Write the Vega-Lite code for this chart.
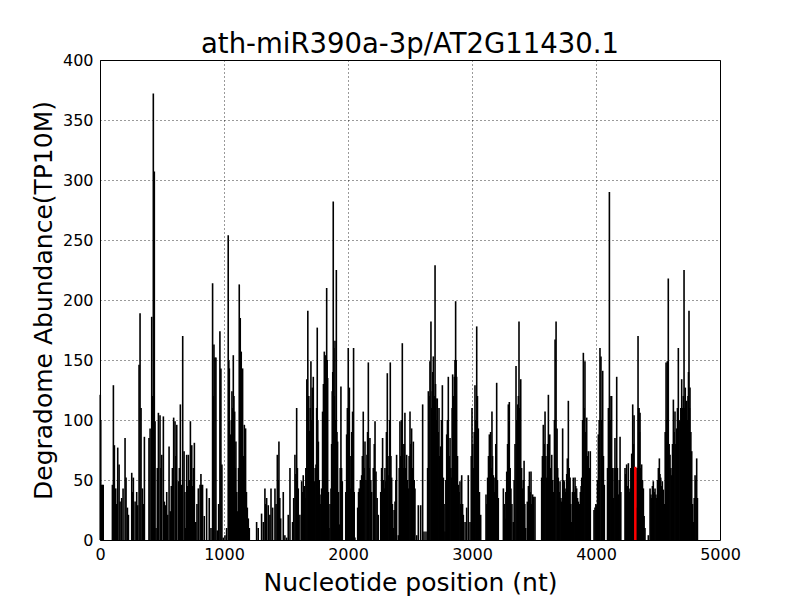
{
  "$schema": "https://vega.github.io/schema/vega-lite/v6.json",
  "width": 620,
  "height": 480,
  "autosize": {"type": "none"},
  "padding": {"left": 100, "top": 60, "right": 80, "bottom": 60},
  "background": "white",
  "config": {
    "font": "DejaVu Sans",
    "view": {"stroke": "black", "strokeWidth": 1},
    "axis": {
      "labelFont": "DejaVu Sans",
      "titleFont": "DejaVu Sans",
      "labelFontSize": 16,
      "titleFontSize": 25,
      "titleFontWeight": "normal",
      "labelColor": "black",
      "titleColor": "black",
      "ticks": false,
      "domain": false,
      "grid": true,
      "gridColor": "black",
      "gridDash": [1, 3],
      "gridWidth": 0.8,
      "gridOpacity": 1
    }
  },
  "title": {
    "text": "ath-miR390a-3p/AT2G11430.1",
    "font": "DejaVu Sans",
    "fontSize": 27.5,
    "fontWeight": "normal",
    "color": "black",
    "frame": "group",
    "baseline": "alphabetic",
    "offset": 7,
    "dy": 35
  },
  "data": {
    "values": [
      {"pos": 2, "val": 121, "kind": "other"}, {"pos": 6, "val": 100, "kind": "other"}, {"pos": 12, "val": 46, "kind": "other"}, {"pos": 20, "val": 46, "kind": "other"}, {"pos": 26, "val": 46, "kind": "other"},
      {"pos": 100, "val": 46, "kind": "other"}, {"pos": 108, "val": 129, "kind": "other"}, {"pos": 116, "val": 79, "kind": "other"}, {"pos": 127, "val": 43, "kind": "other"}, {"pos": 135, "val": 30, "kind": "other"}, {"pos": 143, "val": 77, "kind": "other"}, {"pos": 154, "val": 63, "kind": "other"}, {"pos": 162, "val": 32, "kind": "other"}, {"pos": 175, "val": 35, "kind": "other"}, {"pos": 186, "val": 43, "kind": "other"}, {"pos": 202, "val": 85, "kind": "other"}, {"pos": 210, "val": 52, "kind": "other"}, {"pos": 221, "val": 27, "kind": "other"}, {"pos": 229, "val": 21, "kind": "other"},
      {"pos": 256, "val": 56, "kind": "other"}, {"pos": 262, "val": 40, "kind": "other"}, {"pos": 269, "val": 52, "kind": "other"}, {"pos": 283, "val": 32, "kind": "other"}, {"pos": 296, "val": 40, "kind": "other"}, {"pos": 304, "val": 29, "kind": "other"}, {"pos": 315, "val": 146, "kind": "other"}, {"pos": 323, "val": 189, "kind": "other"}, {"pos": 331, "val": 110, "kind": "other"}, {"pos": 342, "val": 43, "kind": "other"}, {"pos": 350, "val": 30, "kind": "other"}, {"pos": 358, "val": 86, "kind": "other"},
      {"pos": 395, "val": 85, "kind": "other"}, {"pos": 404, "val": 93, "kind": "other"}, {"pos": 417, "val": 186, "kind": "other"}, {"pos": 424, "val": 120, "kind": "other"}, {"pos": 430, "val": 372, "kind": "other"}, {"pos": 438, "val": 307, "kind": "other"}, {"pos": 444, "val": 99, "kind": "other"}, {"pos": 452, "val": 10, "kind": "other"}, {"pos": 462, "val": 60, "kind": "other"}, {"pos": 471, "val": 106, "kind": "other"}, {"pos": 484, "val": 104, "kind": "other"}, {"pos": 491, "val": 60, "kind": "other"}, {"pos": 498, "val": 71, "kind": "other"}, {"pos": 511, "val": 103, "kind": "other"}, {"pos": 519, "val": 32, "kind": "other"}, {"pos": 530, "val": 29, "kind": "other"}, {"pos": 538, "val": 40, "kind": "other"}, {"pos": 546, "val": 21, "kind": "other"}, {"pos": 557, "val": 78, "kind": "other"}, {"pos": 567, "val": 24, "kind": "other"}, {"pos": 575, "val": 45, "kind": "other"}, {"pos": 584, "val": 60, "kind": "other"}, {"pos": 594, "val": 102, "kind": "other"}, {"pos": 605, "val": 99, "kind": "other"}, {"pos": 612, "val": 70, "kind": "other"}, {"pos": 619, "val": 96, "kind": "other"}, {"pos": 632, "val": 49, "kind": "other"}, {"pos": 640, "val": 60, "kind": "other"}, {"pos": 648, "val": 113, "kind": "other"}, {"pos": 659, "val": 46, "kind": "other"}, {"pos": 667, "val": 170, "kind": "other"}, {"pos": 678, "val": 74, "kind": "other"}, {"pos": 685, "val": 40, "kind": "other"}, {"pos": 691, "val": 10, "kind": "other"}, {"pos": 699, "val": 71, "kind": "other"}, {"pos": 706, "val": 45, "kind": "other"}, {"pos": 713, "val": 71, "kind": "other"}, {"pos": 721, "val": 50, "kind": "other"}, {"pos": 729, "val": 99, "kind": "other"}, {"pos": 740, "val": 79, "kind": "other"}, {"pos": 746, "val": 45, "kind": "other"}, {"pos": 753, "val": 60, "kind": "other"}, {"pos": 761, "val": 81, "kind": "other"}, {"pos": 772, "val": 15, "kind": "other"}, {"pos": 782, "val": 30, "kind": "other"}, {"pos": 793, "val": 43, "kind": "other"}, {"pos": 807, "val": 46, "kind": "other"}, {"pos": 814, "val": 55, "kind": "other"}, {"pos": 820, "val": 46, "kind": "other"}, {"pos": 827, "val": 46, "kind": "other"}, {"pos": 841, "val": 20, "kind": "other"}, {"pos": 860, "val": 43, "kind": "other"}, {"pos": 881, "val": 35, "kind": "other"}, {"pos": 895, "val": 10, "kind": "other"},
      {"pos": 908, "val": 214, "kind": "other"}, {"pos": 913, "val": 120, "kind": "other"}, {"pos": 919, "val": 163, "kind": "other"}, {"pos": 927, "val": 152, "kind": "other"}, {"pos": 935, "val": 152, "kind": "other"}, {"pos": 946, "val": 8, "kind": "other"}, {"pos": 957, "val": 30, "kind": "other"}, {"pos": 967, "val": 174, "kind": "other"}, {"pos": 975, "val": 143, "kind": "other"}, {"pos": 983, "val": 63, "kind": "other"}, {"pos": 994, "val": 2, "kind": "other"}, {"pos": 1008, "val": 4, "kind": "other"}, {"pos": 1021, "val": 10, "kind": "other"}, {"pos": 1034, "val": 254, "kind": "other"}, {"pos": 1039, "val": 150, "kind": "other"}, {"pos": 1043, "val": 143, "kind": "other"}, {"pos": 1048, "val": 80, "kind": "other"}, {"pos": 1053, "val": 88, "kind": "other"}, {"pos": 1059, "val": 100, "kind": "other"}, {"pos": 1064, "val": 124, "kind": "other"}, {"pos": 1070, "val": 110, "kind": "other"}, {"pos": 1075, "val": 154, "kind": "other"}, {"pos": 1080, "val": 120, "kind": "other"}, {"pos": 1086, "val": 107, "kind": "other"}, {"pos": 1091, "val": 60, "kind": "other"}, {"pos": 1096, "val": 82, "kind": "other"}, {"pos": 1103, "val": 40, "kind": "other"}, {"pos": 1110, "val": 24, "kind": "other"}, {"pos": 1117, "val": 60, "kind": "other"}, {"pos": 1123, "val": 213, "kind": "other"}, {"pos": 1127, "val": 150, "kind": "other"}, {"pos": 1131, "val": 185, "kind": "other"}, {"pos": 1135, "val": 140, "kind": "other"}, {"pos": 1139, "val": 157, "kind": "other"}, {"pos": 1145, "val": 120, "kind": "other"}, {"pos": 1150, "val": 143, "kind": "other"}, {"pos": 1157, "val": 70, "kind": "other"}, {"pos": 1164, "val": 96, "kind": "other"}, {"pos": 1169, "val": 60, "kind": "other"}, {"pos": 1174, "val": 93, "kind": "other"}, {"pos": 1181, "val": 40, "kind": "other"}, {"pos": 1188, "val": 27, "kind": "other"}, {"pos": 1196, "val": 18, "kind": "other"}, {"pos": 1204, "val": 10, "kind": "other"},
      {"pos": 1263, "val": 15, "kind": "other"}, {"pos": 1276, "val": 10, "kind": "other"}, {"pos": 1303, "val": 22, "kind": "other"}, {"pos": 1317, "val": 15, "kind": "other"}, {"pos": 1330, "val": 43, "kind": "other"}, {"pos": 1337, "val": 30, "kind": "other"}, {"pos": 1344, "val": 35, "kind": "other"}, {"pos": 1357, "val": 29, "kind": "other"}, {"pos": 1370, "val": 21, "kind": "other"}, {"pos": 1379, "val": 43, "kind": "other"}, {"pos": 1392, "val": 27, "kind": "other"}, {"pos": 1411, "val": 43, "kind": "other"}, {"pos": 1420, "val": 30, "kind": "other"}, {"pos": 1430, "val": 71, "kind": "other"}, {"pos": 1437, "val": 50, "kind": "other"}, {"pos": 1443, "val": 82, "kind": "other"}, {"pos": 1450, "val": 35, "kind": "other"}, {"pos": 1457, "val": 18, "kind": "other"}, {"pos": 1478, "val": 40, "kind": "other"}, {"pos": 1491, "val": 4, "kind": "other"}, {"pos": 1505, "val": 2, "kind": "other"}, {"pos": 1518, "val": 21, "kind": "other"}, {"pos": 1532, "val": 60, "kind": "other"}, {"pos": 1553, "val": 15, "kind": "other"}, {"pos": 1562, "val": 35, "kind": "other"}, {"pos": 1572, "val": 71, "kind": "other"}, {"pos": 1580, "val": 55, "kind": "other"}, {"pos": 1586, "val": 110, "kind": "other"}, {"pos": 1592, "val": 60, "kind": "other"}, {"pos": 1599, "val": 43, "kind": "other"}, {"pos": 1612, "val": 21, "kind": "other"}, {"pos": 1626, "val": 49, "kind": "other"}, {"pos": 1632, "val": 40, "kind": "other"}, {"pos": 1639, "val": 54, "kind": "other"}, {"pos": 1647, "val": 45, "kind": "other"}, {"pos": 1653, "val": 35, "kind": "other"}, {"pos": 1660, "val": 60, "kind": "other"},
      {"pos": 1668, "val": 134, "kind": "other"}, {"pos": 1676, "val": 191, "kind": "other"}, {"pos": 1684, "val": 120, "kind": "other"}, {"pos": 1691, "val": 91, "kind": "other"}, {"pos": 1696, "val": 110, "kind": "other"}, {"pos": 1701, "val": 149, "kind": "other"}, {"pos": 1707, "val": 100, "kind": "other"}, {"pos": 1712, "val": 127, "kind": "other"}, {"pos": 1720, "val": 136, "kind": "other"}, {"pos": 1728, "val": 49, "kind": "other"}, {"pos": 1735, "val": 60, "kind": "other"}, {"pos": 1742, "val": 63, "kind": "other"}, {"pos": 1747, "val": 110, "kind": "other"}, {"pos": 1752, "val": 177, "kind": "other"}, {"pos": 1756, "val": 100, "kind": "other"}, {"pos": 1761, "val": 82, "kind": "other"}, {"pos": 1768, "val": 50, "kind": "other"}, {"pos": 1774, "val": 38, "kind": "other"}, {"pos": 1781, "val": 30, "kind": "other"}, {"pos": 1787, "val": 43, "kind": "other"}, {"pos": 1795, "val": 107, "kind": "other"}, {"pos": 1802, "val": 130, "kind": "other"}, {"pos": 1809, "val": 157, "kind": "other"}, {"pos": 1815, "val": 130, "kind": "other"}, {"pos": 1820, "val": 154, "kind": "other"}, {"pos": 1828, "val": 210, "kind": "other"}, {"pos": 1832, "val": 150, "kind": "other"}, {"pos": 1836, "val": 135, "kind": "other"}, {"pos": 1842, "val": 40, "kind": "other"}, {"pos": 1847, "val": 10, "kind": "other"}, {"pos": 1855, "val": 30, "kind": "other"}, {"pos": 1863, "val": 43, "kind": "other"}, {"pos": 1868, "val": 80, "kind": "other"}, {"pos": 1873, "val": 124, "kind": "other"}, {"pos": 1877, "val": 140, "kind": "other"}, {"pos": 1881, "val": 282, "kind": "other"}, {"pos": 1886, "val": 160, "kind": "other"}, {"pos": 1890, "val": 120, "kind": "other"}, {"pos": 1895, "val": 166, "kind": "other"}, {"pos": 1901, "val": 100, "kind": "other"}, {"pos": 1906, "val": 225, "kind": "other"}, {"pos": 1911, "val": 90, "kind": "other"}, {"pos": 1916, "val": 82, "kind": "other"}, {"pos": 1923, "val": 40, "kind": "other"}, {"pos": 1930, "val": 13, "kind": "other"}, {"pos": 1937, "val": 60, "kind": "other"}, {"pos": 1943, "val": 128, "kind": "other"}, {"pos": 1948, "val": 60, "kind": "other"}, {"pos": 1954, "val": 49, "kind": "other"},
      {"pos": 1982, "val": 40, "kind": "other"}, {"pos": 1989, "val": 88, "kind": "other"}, {"pos": 1995, "val": 110, "kind": "other"}, {"pos": 2002, "val": 160, "kind": "other"}, {"pos": 2007, "val": 100, "kind": "other"}, {"pos": 2011, "val": 127, "kind": "other"}, {"pos": 2017, "val": 70, "kind": "other"}, {"pos": 2024, "val": 43, "kind": "other"}, {"pos": 2030, "val": 90, "kind": "other"}, {"pos": 2037, "val": 107, "kind": "other"}, {"pos": 2045, "val": 160, "kind": "other"}, {"pos": 2050, "val": 40, "kind": "other"}, {"pos": 2056, "val": 2, "kind": "other"}, {"pos": 2078, "val": 27, "kind": "other"}, {"pos": 2085, "val": 40, "kind": "other"}, {"pos": 2091, "val": 43, "kind": "other"}, {"pos": 2100, "val": 50, "kind": "other"}, {"pos": 2110, "val": 54, "kind": "other"}, {"pos": 2116, "val": 70, "kind": "other"}, {"pos": 2123, "val": 107, "kind": "other"}, {"pos": 2130, "val": 60, "kind": "other"}, {"pos": 2137, "val": 82, "kind": "other"}, {"pos": 2145, "val": 50, "kind": "other"}, {"pos": 2153, "val": 71, "kind": "other"}, {"pos": 2158, "val": 90, "kind": "other"}, {"pos": 2164, "val": 148, "kind": "other"}, {"pos": 2170, "val": 60, "kind": "other"}, {"pos": 2177, "val": 85, "kind": "other"}, {"pos": 2184, "val": 50, "kind": "other"}, {"pos": 2191, "val": 40, "kind": "other"}, {"pos": 2204, "val": 60, "kind": "other"}, {"pos": 2212, "val": 80, "kind": "other"}, {"pos": 2218, "val": 99, "kind": "other"}, {"pos": 2226, "val": 57, "kind": "other"}, {"pos": 2235, "val": 35, "kind": "other"}, {"pos": 2244, "val": 21, "kind": "other"}, {"pos": 2264, "val": 40, "kind": "other"}, {"pos": 2271, "val": 60, "kind": "other"}, {"pos": 2279, "val": 85, "kind": "other"}, {"pos": 2286, "val": 50, "kind": "other"}, {"pos": 2293, "val": 43, "kind": "other"}, {"pos": 2298, "val": 60, "kind": "other"}, {"pos": 2304, "val": 49, "kind": "other"}, {"pos": 2310, "val": 90, "kind": "other"}, {"pos": 2317, "val": 139, "kind": "other"}, {"pos": 2323, "val": 70, "kind": "other"}, {"pos": 2330, "val": 54, "kind": "other"}, {"pos": 2336, "val": 100, "kind": "other"}, {"pos": 2341, "val": 148, "kind": "other"}, {"pos": 2346, "val": 70, "kind": "other"}, {"pos": 2352, "val": 52, "kind": "other"}, {"pos": 2358, "val": 30, "kind": "other"}, {"pos": 2365, "val": 10, "kind": "other"}, {"pos": 2372, "val": 25, "kind": "other"}, {"pos": 2379, "val": 32, "kind": "other"}, {"pos": 2386, "val": 50, "kind": "other"}, {"pos": 2392, "val": 71, "kind": "other"}, {"pos": 2406, "val": 4, "kind": "other"}, {"pos": 2413, "val": 60, "kind": "other"}, {"pos": 2419, "val": 99, "kind": "other"}, {"pos": 2426, "val": 70, "kind": "other"}, {"pos": 2432, "val": 100, "kind": "other"}, {"pos": 2438, "val": 164, "kind": "other"}, {"pos": 2444, "val": 80, "kind": "other"}, {"pos": 2449, "val": 60, "kind": "other"}, {"pos": 2454, "val": 80, "kind": "other"}, {"pos": 2459, "val": 106, "kind": "other"}, {"pos": 2466, "val": 60, "kind": "other"}, {"pos": 2473, "val": 71, "kind": "other"}, {"pos": 2480, "val": 50, "kind": "other"}, {"pos": 2486, "val": 43, "kind": "other"}, {"pos": 2493, "val": 70, "kind": "other"},
      {"pos": 2500, "val": 107, "kind": "other"}, {"pos": 2507, "val": 80, "kind": "other"}, {"pos": 2513, "val": 93, "kind": "other"}, {"pos": 2520, "val": 60, "kind": "other"}, {"pos": 2527, "val": 82, "kind": "other"}, {"pos": 2534, "val": 50, "kind": "other"}, {"pos": 2540, "val": 43, "kind": "other"}, {"pos": 2554, "val": 4, "kind": "other"}, {"pos": 2567, "val": 29, "kind": "other"}, {"pos": 2586, "val": 29, "kind": "other"}, {"pos": 2602, "val": 113, "kind": "other"}, {"pos": 2613, "val": 7, "kind": "other"}, {"pos": 2629, "val": 7, "kind": "other"}, {"pos": 2642, "val": 60, "kind": "other"}, {"pos": 2648, "val": 124, "kind": "other"}, {"pos": 2654, "val": 120, "kind": "other"}, {"pos": 2661, "val": 149, "kind": "other"}, {"pos": 2669, "val": 182, "kind": "other"}, {"pos": 2675, "val": 110, "kind": "other"}, {"pos": 2680, "val": 124, "kind": "other"}, {"pos": 2684, "val": 140, "kind": "other"}, {"pos": 2688, "val": 153, "kind": "other"}, {"pos": 2695, "val": 120, "kind": "other"}, {"pos": 2702, "val": 229, "kind": "other"}, {"pos": 2706, "val": 130, "kind": "other"}, {"pos": 2710, "val": 118, "kind": "other"}, {"pos": 2715, "val": 100, "kind": "other"}, {"pos": 2720, "val": 118, "kind": "other"}, {"pos": 2727, "val": 90, "kind": "other"}, {"pos": 2734, "val": 110, "kind": "other"}, {"pos": 2740, "val": 70, "kind": "other"}, {"pos": 2747, "val": 78, "kind": "other"}, {"pos": 2754, "val": 100, "kind": "other"}, {"pos": 2761, "val": 129, "kind": "other"}, {"pos": 2769, "val": 52, "kind": "other"}, {"pos": 2775, "val": 30, "kind": "other"}, {"pos": 2782, "val": 7, "kind": "other"}, {"pos": 2789, "val": 50, "kind": "other"}, {"pos": 2796, "val": 88, "kind": "other"}, {"pos": 2802, "val": 100, "kind": "other"}, {"pos": 2809, "val": 136, "kind": "other"}, {"pos": 2816, "val": 70, "kind": "other"}, {"pos": 2823, "val": 85, "kind": "other"}, {"pos": 2830, "val": 60, "kind": "other"}, {"pos": 2836, "val": 52, "kind": "other"}, {"pos": 2840, "val": 110, "kind": "other"}, {"pos": 2844, "val": 138, "kind": "other"}, {"pos": 2851, "val": 120, "kind": "other"}, {"pos": 2858, "val": 136, "kind": "other"}, {"pos": 2863, "val": 150, "kind": "other"}, {"pos": 2868, "val": 199, "kind": "other"}, {"pos": 2872, "val": 150, "kind": "other"}, {"pos": 2876, "val": 136, "kind": "other"}, {"pos": 2883, "val": 70, "kind": "other"}, {"pos": 2890, "val": 46, "kind": "other"}, {"pos": 2896, "val": 40, "kind": "other"}, {"pos": 2903, "val": 49, "kind": "other"}, {"pos": 2910, "val": 30, "kind": "other"}, {"pos": 2917, "val": 54, "kind": "other"}, {"pos": 2924, "val": 30, "kind": "other"}, {"pos": 2930, "val": 21, "kind": "other"}, {"pos": 2944, "val": 15, "kind": "other"}, {"pos": 2957, "val": 27, "kind": "other"}, {"pos": 2970, "val": 54, "kind": "other"}, {"pos": 2984, "val": 15, "kind": "other"}, {"pos": 2994, "val": 70, "kind": "other"}, {"pos": 3000, "val": 110, "kind": "other"}, {"pos": 3006, "val": 80, "kind": "other"}, {"pos": 3011, "val": 60, "kind": "other"}, {"pos": 3018, "val": 90, "kind": "other"}, {"pos": 3024, "val": 129, "kind": "other"}, {"pos": 3031, "val": 100, "kind": "other"}, {"pos": 3038, "val": 178, "kind": "other"}, {"pos": 3044, "val": 120, "kind": "other"}, {"pos": 3051, "val": 93, "kind": "other"}, {"pos": 3060, "val": 40, "kind": "other"}, {"pos": 3070, "val": 21, "kind": "other"},
      {"pos": 3113, "val": 38, "kind": "other"}, {"pos": 3120, "val": 30, "kind": "other"}, {"pos": 3126, "val": 52, "kind": "other"}, {"pos": 3133, "val": 70, "kind": "other"}, {"pos": 3140, "val": 88, "kind": "other"}, {"pos": 3145, "val": 70, "kind": "other"}, {"pos": 3150, "val": 90, "kind": "other"}, {"pos": 3156, "val": 60, "kind": "other"}, {"pos": 3161, "val": 107, "kind": "other"}, {"pos": 3166, "val": 70, "kind": "other"}, {"pos": 3172, "val": 54, "kind": "other"}, {"pos": 3179, "val": 40, "kind": "other"}, {"pos": 3185, "val": 52, "kind": "other"}, {"pos": 3192, "val": 80, "kind": "other"}, {"pos": 3199, "val": 131, "kind": "other"}, {"pos": 3205, "val": 50, "kind": "other"}, {"pos": 3212, "val": 35, "kind": "other"}, {"pos": 3253, "val": 43, "kind": "other"}, {"pos": 3260, "val": 30, "kind": "other"}, {"pos": 3266, "val": 18, "kind": "other"}, {"pos": 3273, "val": 40, "kind": "other"}, {"pos": 3280, "val": 57, "kind": "other"}, {"pos": 3287, "val": 80, "kind": "other"}, {"pos": 3293, "val": 113, "kind": "other"}, {"pos": 3301, "val": 115, "kind": "other"}, {"pos": 3308, "val": 60, "kind": "other"}, {"pos": 3314, "val": 43, "kind": "other"}, {"pos": 3322, "val": 30, "kind": "other"}, {"pos": 3333, "val": 15, "kind": "other"}, {"pos": 3340, "val": 50, "kind": "other"},
      {"pos": 3347, "val": 80, "kind": "other"}, {"pos": 3355, "val": 145, "kind": "other"}, {"pos": 3362, "val": 100, "kind": "other"}, {"pos": 3369, "val": 113, "kind": "other"}, {"pos": 3374, "val": 120, "kind": "other"}, {"pos": 3379, "val": 182, "kind": "other"}, {"pos": 3386, "val": 110, "kind": "other"}, {"pos": 3393, "val": 134, "kind": "other"}, {"pos": 3400, "val": 60, "kind": "other"}, {"pos": 3406, "val": 43, "kind": "other"}, {"pos": 3413, "val": 50, "kind": "other"}, {"pos": 3420, "val": 66, "kind": "other"}, {"pos": 3426, "val": 30, "kind": "other"}, {"pos": 3433, "val": 10, "kind": "other"}, {"pos": 3446, "val": 32, "kind": "other"}, {"pos": 3455, "val": 45, "kind": "other"}, {"pos": 3463, "val": 57, "kind": "other"}, {"pos": 3470, "val": 40, "kind": "other"}, {"pos": 3476, "val": 57, "kind": "other"}, {"pos": 3482, "val": 30, "kind": "other"}, {"pos": 3489, "val": 38, "kind": "other"}, {"pos": 3498, "val": 36, "kind": "other"}, {"pos": 3508, "val": 36, "kind": "other"},
      {"pos": 3562, "val": 52, "kind": "other"}, {"pos": 3568, "val": 70, "kind": "other"}, {"pos": 3575, "val": 96, "kind": "other"}, {"pos": 3582, "val": 80, "kind": "other"}, {"pos": 3589, "val": 107, "kind": "other"}, {"pos": 3596, "val": 70, "kind": "other"}, {"pos": 3602, "val": 52, "kind": "other"}, {"pos": 3609, "val": 80, "kind": "other"}, {"pos": 3616, "val": 121, "kind": "other"}, {"pos": 3621, "val": 70, "kind": "other"}, {"pos": 3627, "val": 88, "kind": "other"}, {"pos": 3635, "val": 60, "kind": "other"}, {"pos": 3643, "val": 71, "kind": "other"}, {"pos": 3651, "val": 50, "kind": "other"}, {"pos": 3659, "val": 40, "kind": "other"}, {"pos": 3665, "val": 100, "kind": "other"}, {"pos": 3670, "val": 167, "kind": "other"}, {"pos": 3678, "val": 182, "kind": "other"}, {"pos": 3686, "val": 93, "kind": "other"}, {"pos": 3691, "val": 60, "kind": "other"}, {"pos": 3696, "val": 52, "kind": "other"}, {"pos": 3703, "val": 40, "kind": "other"}, {"pos": 3710, "val": 49, "kind": "other"}, {"pos": 3717, "val": 35, "kind": "other"}, {"pos": 3723, "val": 32, "kind": "other"}, {"pos": 3731, "val": 93, "kind": "other"}, {"pos": 3738, "val": 50, "kind": "other"}, {"pos": 3745, "val": 49, "kind": "other"}, {"pos": 3752, "val": 40, "kind": "other"}, {"pos": 3758, "val": 43, "kind": "other"}, {"pos": 3764, "val": 55, "kind": "other"}, {"pos": 3769, "val": 68, "kind": "other"}, {"pos": 3777, "val": 116, "kind": "other"}, {"pos": 3784, "val": 60, "kind": "other"}, {"pos": 3791, "val": 52, "kind": "other"}, {"pos": 3797, "val": 30, "kind": "other"}, {"pos": 3804, "val": 15, "kind": "other"}, {"pos": 3810, "val": 40, "kind": "other"}, {"pos": 3817, "val": 52, "kind": "other"}, {"pos": 3824, "val": 40, "kind": "other"}, {"pos": 3831, "val": 52, "kind": "other"}, {"pos": 3837, "val": 45, "kind": "other"}, {"pos": 3844, "val": 43, "kind": "other"}, {"pos": 3851, "val": 35, "kind": "other"}, {"pos": 3858, "val": 32, "kind": "other"}, {"pos": 3866, "val": 30, "kind": "other"}, {"pos": 3874, "val": 40, "kind": "other"}, {"pos": 3880, "val": 45, "kind": "other"}, {"pos": 3885, "val": 52, "kind": "other"}, {"pos": 3892, "val": 100, "kind": "other"}, {"pos": 3898, "val": 156, "kind": "other"}, {"pos": 3904, "val": 110, "kind": "other"}, {"pos": 3911, "val": 149, "kind": "other"}, {"pos": 3918, "val": 90, "kind": "other"}, {"pos": 3925, "val": 102, "kind": "other"}, {"pos": 3931, "val": 70, "kind": "other"}, {"pos": 3938, "val": 74, "kind": "other"}, {"pos": 3946, "val": 60, "kind": "other"}, {"pos": 3954, "val": 74, "kind": "other"},
      {"pos": 3984, "val": 25, "kind": "other"}, {"pos": 3992, "val": 27, "kind": "other"}, {"pos": 3999, "val": 30, "kind": "other"}, {"pos": 4006, "val": 29, "kind": "other"}, {"pos": 4012, "val": 50, "kind": "other"}, {"pos": 4019, "val": 88, "kind": "other"}, {"pos": 4026, "val": 100, "kind": "other"}, {"pos": 4032, "val": 160, "kind": "other"}, {"pos": 4040, "val": 153, "kind": "other"}, {"pos": 4047, "val": 100, "kind": "other"}, {"pos": 4054, "val": 141, "kind": "other"}, {"pos": 4060, "val": 70, "kind": "other"}, {"pos": 4067, "val": 46, "kind": "other"}, {"pos": 4093, "val": 60, "kind": "other"}, {"pos": 4100, "val": 110, "kind": "other"}, {"pos": 4108, "val": 290, "kind": "other"}, {"pos": 4114, "val": 100, "kind": "other"}, {"pos": 4121, "val": 120, "kind": "other"}, {"pos": 4126, "val": 120, "kind": "other"}, {"pos": 4133, "val": 60, "kind": "other"}, {"pos": 4140, "val": 35, "kind": "other"}, {"pos": 4146, "val": 60, "kind": "other"}, {"pos": 4153, "val": 85, "kind": "other"}, {"pos": 4160, "val": 60, "kind": "other"}, {"pos": 4167, "val": 136, "kind": "other"}, {"pos": 4173, "val": 60, "kind": "other"}, {"pos": 4180, "val": 38, "kind": "other"}, {"pos": 4187, "val": 50, "kind": "other"}, {"pos": 4194, "val": 86, "kind": "other"}, {"pos": 4200, "val": 40, "kind": "other"},
      {"pos": 4234, "val": 60, "kind": "other"}, {"pos": 4240, "val": 55, "kind": "other"}, {"pos": 4247, "val": 63, "kind": "other"}, {"pos": 4254, "val": 45, "kind": "other"}, {"pos": 4261, "val": 64, "kind": "other"}, {"pos": 4268, "val": 40, "kind": "other"}, {"pos": 4274, "val": 43, "kind": "other"}, {"pos": 4281, "val": 60, "kind": "other"}, {"pos": 4288, "val": 72, "kind": "other"}, {"pos": 4296, "val": 113, "kind": "other"}, {"pos": 4302, "val": 80, "kind": "other"}, {"pos": 4307, "val": 104, "kind": "other"}, {"pos": 4312, "val": 60, "kind": "other"}, {"pos": 4323, "val": 60, "kind": "other"}, {"pos": 4328, "val": 27, "kind": "other"}, {"pos": 4334, "val": 60, "kind": "other"}, {"pos": 4339, "val": 170, "kind": "other"}, {"pos": 4343, "val": 110, "kind": "other"}, {"pos": 4347, "val": 110, "kind": "other"}, {"pos": 4351, "val": 90, "kind": "other"}, {"pos": 4355, "val": 106, "kind": "other"}, {"pos": 4361, "val": 60, "kind": "other"}, {"pos": 4368, "val": 63, "kind": "other"}, {"pos": 4375, "val": 50, "kind": "other"}, {"pos": 4382, "val": 43, "kind": "other"}, {"pos": 4388, "val": 20, "kind": "other"}, {"pos": 4395, "val": 10, "kind": "other"}, {"pos": 4422, "val": 4, "kind": "other"}, {"pos": 4436, "val": 43, "kind": "other"}, {"pos": 4443, "val": 38, "kind": "other"}, {"pos": 4449, "val": 35, "kind": "other"}, {"pos": 4455, "val": 45, "kind": "other"}, {"pos": 4462, "val": 49, "kind": "other"}, {"pos": 4469, "val": 40, "kind": "other"}, {"pos": 4476, "val": 43, "kind": "other"}, {"pos": 4483, "val": 38, "kind": "other"}, {"pos": 4489, "val": 35, "kind": "other"}, {"pos": 4496, "val": 50, "kind": "other"}, {"pos": 4503, "val": 60, "kind": "other"}, {"pos": 4511, "val": 68, "kind": "other"}, {"pos": 4516, "val": 55, "kind": "other"}, {"pos": 4522, "val": 52, "kind": "other"}, {"pos": 4529, "val": 45, "kind": "other"}, {"pos": 4535, "val": 49, "kind": "other"}, {"pos": 4543, "val": 42, "kind": "other"}, {"pos": 4550, "val": 30, "kind": "other"}, {"pos": 4558, "val": 90, "kind": "other"}, {"pos": 4565, "val": 148, "kind": "other"}, {"pos": 4570, "val": 100, "kind": "other"}, {"pos": 4575, "val": 149, "kind": "other"}, {"pos": 4579, "val": 120, "kind": "other"}, {"pos": 4583, "val": 218, "kind": "other"}, {"pos": 4590, "val": 80, "kind": "other"}, {"pos": 4597, "val": 71, "kind": "other"}, {"pos": 4604, "val": 60, "kind": "other"}, {"pos": 4610, "val": 54, "kind": "other"}, {"pos": 4617, "val": 80, "kind": "other"}, {"pos": 4624, "val": 117, "kind": "other"}, {"pos": 4630, "val": 90, "kind": "other"}, {"pos": 4637, "val": 107, "kind": "other"}, {"pos": 4644, "val": 80, "kind": "other"}, {"pos": 4651, "val": 93, "kind": "other"}, {"pos": 4657, "val": 110, "kind": "other"}, {"pos": 4664, "val": 160, "kind": "other"}, {"pos": 4670, "val": 100, "kind": "other"}, {"pos": 4677, "val": 99, "kind": "other"}, {"pos": 4684, "val": 110, "kind": "other"}, {"pos": 4691, "val": 134, "kind": "other"}, {"pos": 4695, "val": 100, "kind": "other"}, {"pos": 4699, "val": 110, "kind": "other"}, {"pos": 4704, "val": 120, "kind": "other"}, {"pos": 4710, "val": 225, "kind": "other"}, {"pos": 4715, "val": 110, "kind": "other"}, {"pos": 4720, "val": 127, "kind": "other"}, {"pos": 4726, "val": 100, "kind": "other"}, {"pos": 4731, "val": 116, "kind": "other"}, {"pos": 4737, "val": 100, "kind": "other"}, {"pos": 4742, "val": 120, "kind": "other"}, {"pos": 4746, "val": 140, "kind": "other"}, {"pos": 4750, "val": 191, "kind": "other"}, {"pos": 4754, "val": 110, "kind": "other"}, {"pos": 4758, "val": 127, "kind": "other"}, {"pos": 4765, "val": 90, "kind": "other"}, {"pos": 4772, "val": 74, "kind": "other"}, {"pos": 4779, "val": 30, "kind": "other"}, {"pos": 4785, "val": 15, "kind": "other"}, {"pos": 4792, "val": 35, "kind": "other"}, {"pos": 4799, "val": 54, "kind": "other"}, {"pos": 4806, "val": 50, "kind": "other"}, {"pos": 4812, "val": 68, "kind": "other"}, {"pos": 4818, "val": 35, "kind": "other"},
      {"pos": 4317, "val": 61, "kind": "target"}
    ]
  },
  "layer": [
    {
      "transform": [{"filter": "datum.kind === 'other'"}],
      "mark": {"type": "rule", "color": "black", "strokeWidth": 1.6},
      "encoding": {
        "x": {
          "field": "pos", "type": "quantitative",
          "scale": {"domain": [0, 5000], "nice": false},
          "axis": {"title": "Nucleotide position (nt)", "format": "d", "values": [0, 1000, 2000, 3000, 4000, 5000], "labelPadding": 6, "titlePadding": 8, "labelFlush": false}
        },
        "y": {
          "field": "val", "type": "quantitative",
          "scale": {"domain": [0, 400], "nice": false},
          "axis": {"title": "Degradome Abundance(TP10M)", "format": "d", "values": [0, 50, 100, 150, 200, 250, 300, 350, 400], "labelPadding": 7, "titlePadding": 6, "labelFlush": false}
        },
        "y2": {"datum": 0}
      }
    },
    {
      "transform": [{"filter": "datum.kind === 'target'"}],
      "mark": {"type": "rule", "color": "#ff0000", "strokeWidth": 2.5},
      "encoding": {
        "x": {"field": "pos", "type": "quantitative"},
        "y": {"field": "val", "type": "quantitative"},
        "y2": {"datum": 0}
      }
    }
  ]
}
